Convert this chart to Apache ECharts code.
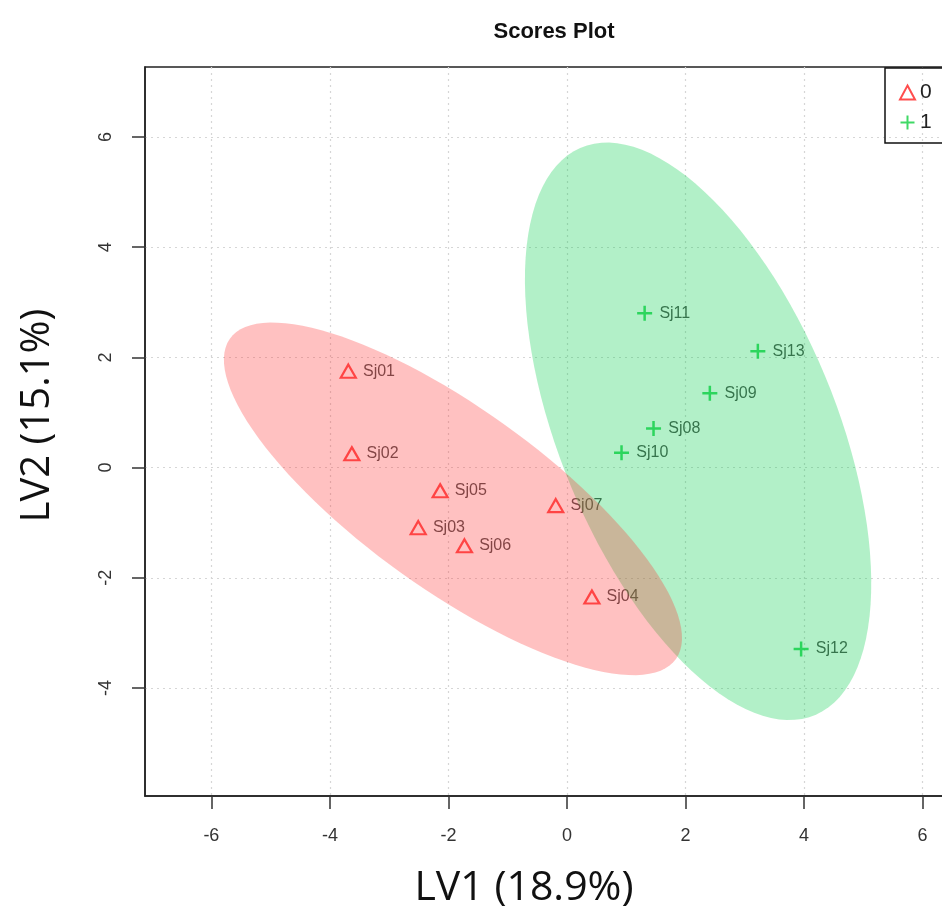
<!DOCTYPE html>
<html lang="en">
<head>
    <meta charset="UTF-8">
    <title>Scores Plot</title>
    <script src="https://cdn.jsdelivr.net/npm/echarts@6/dist/echarts.min.js"></script>
    <style>
        *{
            margin: 0;
            padding: 0;
        }
        body,html{
            width: 100%;
            height: 100%;
            overflow: hidden;
            background: #fff;
        }
        .box{
            width: 942px;
            height: 910px;
        }
    </style>
</head>
<body>
<div class="box"></div>
<script>
    // group 0 (red triangles)
    let names0 = ['Sj01', 'Sj02', 'Sj03', 'Sj04', 'Sj05', 'Sj06', 'Sj07'];
    let lv1_0 = [-3.69, -3.63, -2.51, 0.42, -2.14, -1.73, -0.19];
    let lv2_0 = [1.75, 0.25, -1.09, -2.35, -0.42, -1.42, -0.69];

    // group 1 (green crosses)
    let names1 = ['Sj08', 'Sj09', 'Sj10', 'Sj11', 'Sj12', 'Sj13'];
    let lv1_1 = [1.46, 2.41, 0.92, 1.31, 3.95, 3.22];
    let lv2_1 = [0.71, 1.35, 0.27, 2.80, -3.29, 2.11];

    let ticks = [-6, -4, -2, 0, 2, 4, 6];

    let myChart = echarts.init(document.querySelector('.box'));

    function points(names, xs, ys) {
        return names.map((n, i) => ({name: n, value: [xs[i], ys[i]]}));
    }

    // 95% confidence ellipse of a group, same way R's ellipse() does it
    function ellipse(xs, ys) {
        let n = xs.length;
        let mx = xs.reduce((a, b) => a + b, 0) / n;
        let my = ys.reduce((a, b) => a + b, 0) / n;
        let sxx = 0, syy = 0, sxy = 0;
        for (let i = 0; i < n; i++) {
            sxx += (xs[i] - mx) * (xs[i] - mx);
            syy += (ys[i] - my) * (ys[i] - my);
            sxy += (xs[i] - mx) * (ys[i] - my);
        }
        sxx /= n - 1; syy /= n - 1; sxy /= n - 1;
        let t = Math.sqrt(5.991465);
        let sx = Math.sqrt(sxx), sy = Math.sqrt(syy);
        let d = Math.acos(sxy / (sx * sy));
        let pts = [];
        for (let k = 0; k < 120; k++) {
            let a = 2 * Math.PI * k / 120;
            pts.push([mx + t * sx * Math.cos(a + d / 2), my + t * sy * Math.cos(a - d / 2)]);
        }
        return pts;
    }

    function ellipseSeries(name, xs, ys, color, z) {
        let pts = ellipse(xs, ys);
        return {
            name: name,
            type: 'custom',
            z: z,
            silent: true,
            data: [[0, 0]],
            renderItem: function (params, api) {
                return {
                    type: 'polygon',
                    shape: {points: pts.map(p => api.coord(p))},
                    style: {fill: color}
                };
            }
        };
    }

    let labelStyle = {
        show: true,
        position: 'right',
        distance: 6,
        formatter: '{b}',
        fontFamily: 'Liberation Sans',
        fontSize: 16,
        color: '#222'
    };

    let option = {
        backgroundColor: '#fff',
        animation: false,
        title: {
            text: 'Scores Plot',
            left: 549,
            top: 16,
            textAlign: 'center',
            textStyle: {
                fontFamily: 'Liberation Sans',
                fontWeight: 'bold',
                fontSize: 22,
                color: '#111'
            }
        },
        legend: {
            data: ['0', '1'],
            orient: 'vertical',
            left: 885,
            top: 68,
            padding: [14, 60, 10, 14],
            itemGap: 9,
            itemWidth: 15,
            itemHeight: 14,
            borderColor: '#111',
            borderWidth: 1.5,
            textStyle: {
                fontFamily: 'Liberation Sans',
                fontSize: 21,
                color: '#222'
            }
        },
        grid: {
            left: 145,
            top: 67,
            right: -47,
            bottom: 114,
            outerBoundsMode: 'none',
            containLabel: false,
            show: true,
            borderColor: '#222',
            borderWidth: 1.5
        },
        xAxis: {
            type: 'value',
            min: -7.12,
            max: 7.12,
            name: 'LV1 (18.9%)',
            nameLocation: 'middle',
            nameGap: 72,
            nameTextStyle: {
                fontFamily: 'Open Sans',
                fontSize: 41,
                color: '#111',
                padding: [0, 86, 0, 0]
            },
            axisLine: {show: true, onZero: false, lineStyle: {color: '#222', width: 1.5}},
            axisTick: {show: true, length: 13, customValues: ticks, lineStyle: {color: '#333', width: 1.5}},
            axisLabel: {
                customValues: ticks,
                margin: 31,
                fontFamily: 'Liberation Sans',
                fontSize: 18,
                color: '#333'
            },
            splitLine: {show: true, lineStyle: {color: '#d6d6d6', type: [2, 4], width: 1.2}}
        },
        yAxis: {
            type: 'value',
            min: -5.96,
            max: 7.27,
            name: 'LV2 (15.1%)',
            nameLocation: 'middle',
            nameGap: 87,
            nameTextStyle: {
                fontFamily: 'Open Sans',
                fontSize: 40,
                color: '#111',
                padding: [0, 0, 0, 32]
            },
            axisLine: {show: true, onZero: false, lineStyle: {color: '#222', width: 1.5}},
            axisTick: {show: true, length: 13, customValues: ticks, lineStyle: {color: '#333', width: 1.5}},
            axisLabel: {
                customValues: ticks,
                rotate: 90,
                margin: 30,
                fontFamily: 'Liberation Sans',
                fontSize: 18,
                color: '#333'
            },
            splitLine: {show: true, lineStyle: {color: '#d6d6d6', type: [2, 4], width: 1.2}}
        },
        series: [
            {
                name: '0',
                type: 'scatter',
                z: 1,
                symbol: 'triangle',
                symbolSize: [15, 13],
                itemStyle: {color: 'rgba(0,0,0,0)', borderColor: '#ff2020', borderWidth: 2.2},
                label: labelStyle,
                data: points(names0, lv1_0, lv2_0)
            },
            {
                name: '1',
                type: 'scatter',
                z: 1,
                symbol: 'path://M0,-7L0,7M-7,0L7,0',
                symbolSize: 15,
                itemStyle: {color: '#10d040', borderColor: '#10d040', borderWidth: 2.5},
                label: labelStyle,
                data: points(names1, lv1_1, lv2_1)
            },
            ellipseSeries('e1', lv1_1, lv2_1, 'rgba(0,205,72,0.3)', 3),
            ellipseSeries('e0', lv1_0, lv2_0, 'rgba(255,50,50,0.3)', 4)
        ]
    };

    myChart.setOption(option);
</script>
</body>
</html>
